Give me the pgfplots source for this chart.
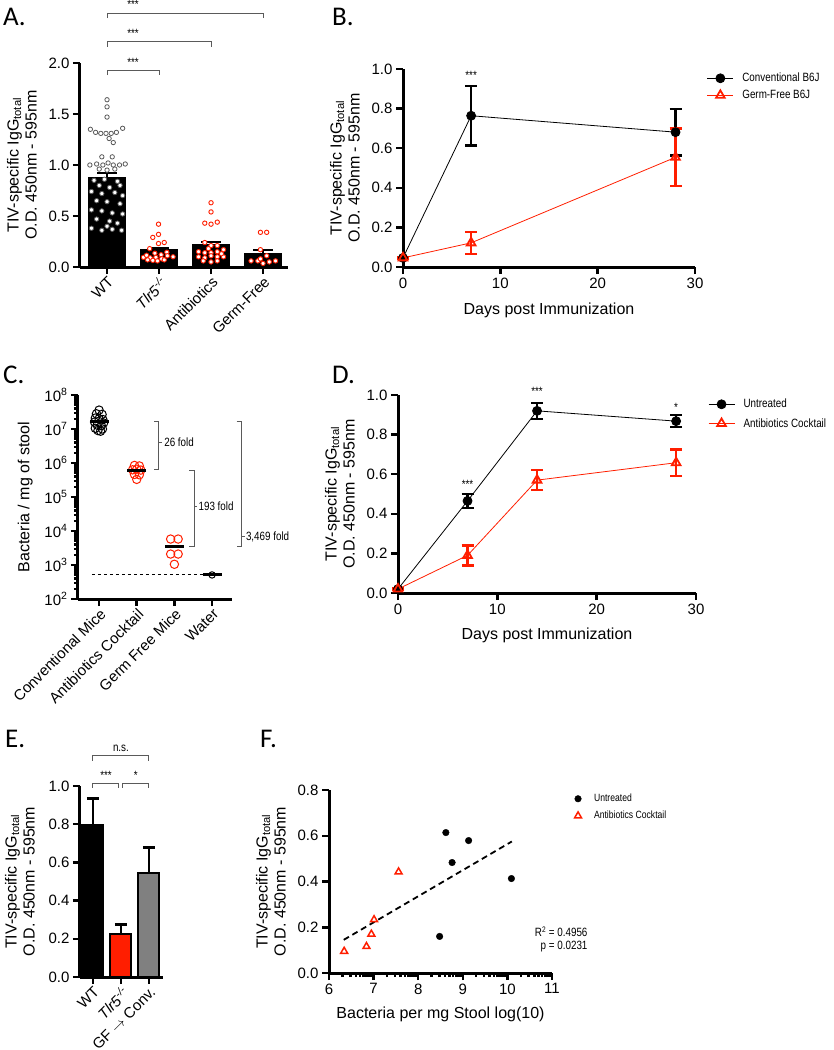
\documentclass[border=0pt]{standalone}
\usepackage{pgfplots}
\pgfplotsset{compat=1.18}
\usepackage{fontspec}
\setmainfont{Liberation Sans}
\newfontfamily\carlito{Carlito}
\newfontfamily\narrowfont[FakeStretch=0.82]{Liberation Sans}
\newcommand\tickfont{\fontsize{15}{17}\selectfont}
\newcommand\labfont{\fontsize{16}{18}\selectfont}
\newcommand\legfont{\narrowfont\fontsize{12}{14}\selectfont}
\newcommand\smallleg{\narrowfont\fontsize{10.5}{12}\selectfont}
\newcommand\panfont{\carlito\fontsize{27}{30}\selectfont}
\newcommand\annfont{\narrowfont\fontsize{12}{14}\selectfont}
\definecolor{gpred}{RGB}{255,30,0}
\definecolor{brk}{RGB}{90,90,90}
\definecolor{ptgray}{RGB}{90,90,90}
\pgfplotsset{
 gp/.style={scale only axis, clip=false,
  axis x line*=bottom, axis y line*=left,
  axis line style={line width=3pt,-},
  tick style={line width=2.5pt,black},
  major tick length=7pt, minor tick length=4pt,
  tick align=outside,
  tick label style={font=\tickfont},
  label style={font=\labfont},
  ylabel style={align=center},
  ylabel shift=5pt,
  /pgf/number format/assume math mode=true,
  yticklabel style={/pgf/number format/.cd,fixed,fixed zerofill,precision=1},
  legend cell align=left,
  legend image code/.code={\draw[mark repeat=2,mark phase=2,##1] plot coordinates {(0pt,0pt) (13pt,0pt) (26pt,0pt)}; \path[draw=none,fill=none] (0pt,0pt) -- (33pt,0pt);},
 },
}
\begin{document}
\begin{tikzpicture}

% ---------------- Panel A ----------------
\begin{scope}[shift={(80pt,-267pt)}]
\begin{axis}[gp, at={(0pt,0pt)}, anchor=south west, width=208pt, height=204pt,
  xmin=-0.52, xmax=3.48, ymin=0, ymax=2,
  ytick={0,0.5,1,1.5,2},
  xtick={0,1,2,3},
  xticklabels={WT,\textit{Tlr5}\textsuperscript{\textit{-/-}},Antibiotics,Germ-Free},
  xticklabel style={rotate=45,anchor=north east,inner sep=1pt},
  ylabel={TIV-specific IgG\textsubscript{total}\\O.D. 450nm - 595nm},
]
\addplot[ybar, bar shift=0pt, bar width=37pt, fill=black, draw=black,
  error bars/.cd, y dir=plus, y explicit,
  error bar style={line width=2pt,black},
  error mark options={rotate=90,mark size=10pt,line width=2pt,black}]
  coordinates {(0,0.88) +- (0,0.04) (1,0.173) +- (0,0.015) (2,0.22) +- (0,0.03) (3,0.134) +- (0,0.033)};
\addplot[only marks, mark=*, mark size=2.2pt, mark options={fill=white, draw=ptgray, line width=0.8pt}]
  coordinates {
  (0.00,1.64) (0.00,1.57) (0.00,1.47)
  (-0.32,1.35) (-0.22,1.32) (-0.12,1.31) (-0.02,1.31) (0.08,1.31) (0.18,1.32) (0.30,1.36)
  (0.04,1.26) (0.12,1.22) (-0.10,1.08) (0.10,1.08)
  (-0.33,1.00) (-0.20,1.01) (-0.08,1.00) (0.02,1.02) (0.12,1.00) (0.24,1.00) (0.35,1.01)
  (-0.15,0.96) (0.00,0.95) (0.15,0.96)
  (-0.25,0.85) (-0.05,0.86) (0.20,0.84) (-0.15,0.80) (0.05,0.78) (0.25,0.80)
  (-0.30,0.74) (-0.10,0.72) (0.15,0.73) (0.30,0.70) (-0.20,0.65) (0.00,0.64)
  (0.25,0.62) (-0.30,0.56) (-0.10,0.55) (0.10,0.53) (0.30,0.52) (-0.20,0.47)
  (0.05,0.45) (0.20,0.43) (-0.30,0.38) (-0.10,0.36) (0.10,0.37) (0.28,0.36) (0.00,0.40)
  };
\addplot[only marks, mark=*, mark size=2.2pt, mark options={fill=white, draw=gpred, line width=0.9pt}]
  coordinates {
  (0.99,0.42) (0.88,0.29) (0.99,0.32) (0.99,0.23) (1.10,0.24) (0.82,0.18)
  (0.70,0.095) (0.76,0.115) (0.83,0.09) (0.92,0.135) (0.94,0.095) (1.04,0.12)
  (1.05,0.08) (1.15,0.145) (1.16,0.11) (1.27,0.10) (0.88,0.065) (0.97,0.06)
  (1.10,0.07) (0.78,0.07)
  (2.00,0.63) (2.00,0.54) (1.88,0.43) (2.00,0.42) (2.12,0.44) (1.88,0.24)
  (2.00,0.21) (2.12,0.21) (2.24,0.17) (1.76,0.15) (1.88,0.14) (2.00,0.14)
  (2.12,0.15) (1.76,0.10) (1.88,0.09) (2.00,0.11) (2.12,0.10) (2.24,0.10)
  (1.85,0.06) (2.00,0.05) (2.12,0.06) (1.95,0.18) (2.20,0.13)
  (2.95,0.34) (3.07,0.34) (2.95,0.17) (3.07,0.11) (2.77,0.06) (2.90,0.06)
  (3.00,0.035) (3.12,0.05) (3.24,0.06) (2.95,0.08)
  };
\draw[brk, line width=1pt] (axis cs:0,1.88) -- (axis cs:0,1.93) -- (axis cs:1,1.93) -- (axis cs:1,1.88);
\node[font=\annfont] at (axis cs:0.5,2.01) {***};
\draw[brk, line width=1pt] (axis cs:0,2.16) -- (axis cs:0,2.21) -- (axis cs:2,2.21) -- (axis cs:2,2.16);
\node[font=\annfont] at (axis cs:0.5,2.29) {***};
\draw[brk, line width=1pt] (axis cs:0,2.44) -- (axis cs:0,2.49) -- (axis cs:3,2.49) -- (axis cs:3,2.44);
\node[font=\annfont] at (axis cs:0.5,2.57) {***};
\end{axis}
\end{scope}

% ---------------- Panel B ----------------
\begin{scope}[shift={(403pt,-267pt)}]
\begin{axis}[gp, at={(0pt,0pt)}, anchor=south west, width=292pt, height=198pt,
  xmin=0, xmax=30, ymin=0, ymax=1, xtick={0,10,20,30}, ytick={0,0.2,0.4,0.6,0.8,1.0},
  xlabel={Days post Immunization}, xlabel style={yshift=-8pt},
  ylabel={TIV-specific IgG\textsubscript{total}\\O.D. 450nm - 595nm},
  legend style={at={(1.03,1.0)}, anchor=north west, draw=none, fill=none, font=\legfont, row sep=3pt},
]
\addplot[black, line width=0.8pt, mark=*, mark size=4.5pt, mark options={solid,fill=black},
  error bars/.cd, y dir=both, y explicit,
  error bar style={line width=2.5pt,black},
  error mark options={rotate=90,mark size=6pt,line width=2.5pt,black}]
  coordinates {(0,0.046) +- (0,0.005) (7,0.764) +- (0,0.15) (28,0.681) +- (0,0.118)};
\addlegendentry{Conventional B6J}
\addplot[gpred, line width=0.8pt, mark=triangle, mark size=5pt, mark options={solid,fill=white,line width=1.8pt},
  error bars/.cd, y dir=both, y explicit,
  error bar style={line width=2.5pt,gpred},
  error mark options={rotate=90,mark size=6pt,line width=2.5pt,gpred}]
  coordinates {(0,0.046) +- (0,0.005) (7,0.122) +- (0,0.056) (28,0.554) +- (0,0.145)};
\addlegendentry{Germ-Free B6J}
\node[font=\annfont] at (axis cs:7,0.97) {***};
\end{axis}
\end{scope}

% ---------------- Panel C ----------------
\begin{scope}[shift={(78pt,-599pt)}]
\begin{axis}[gp, ymode=log, at={(0pt,0pt)}, anchor=south west, width=154pt, height=204pt,
  xmin=-0.56, xmax=3.53, ymin=1e2, ymax=1e8,
  ytick={1e2,1e3,1e4,1e5,1e6,1e7,1e8},
  yticklabels={10\textsuperscript{2},10\textsuperscript{3},10\textsuperscript{4},10\textsuperscript{5},10\textsuperscript{6},10\textsuperscript{7},10\textsuperscript{8}},
  minor ytick={2e2,3e2,4e2,5e2,6e2,7e2,8e2,9e2,2e3,3e3,4e3,5e3,6e3,7e3,8e3,9e3,2e4,3e4,4e4,5e4,6e4,7e4,8e4,9e4,2e5,3e5,4e5,5e5,6e5,7e5,8e5,9e5,2e6,3e6,4e6,5e6,6e6,7e6,8e6,9e6,2e7,3e7,4e7,5e7,6e7,7e7,8e7,9e7},
  xtick={0,1,2,3},
  xticklabels={Conventional Mice,Antibiotics Cocktail,Germ Free Mice,Water},
  xticklabel style={rotate=45,anchor=north east,inner sep=1pt},
  ylabel={Bacteria / mg of stool},
]
\addplot[only marks, mark=o, mark size=4.2pt, black, line width=1pt]
  coordinates {(0,3.6e7) (-0.07,2.8e7) (0.08,2.7e7) (-0.1,2.1e7) (0.0,2.0e7) (0.1,1.9e7)
  (-0.12,1.6e7) (0.12,1.5e7) (-0.05,1.3e7) (0.06,1.25e7) (-0.1,1.05e7) (0.09,1.0e7) (-0.03,9.0e6) (0.04,8.6e6)};
\addplot[only marks, mark=o, mark size=4.2pt, gpred, line width=1pt]
  coordinates {(0.94,8.5e5) (1.07,8.2e5) (0.89,6.3e5) (1.0,6.6e5) (1.11,6.2e5) (0.94,4.6e5) (1.07,4.5e5) (1.0,3.3e5)
  (1.9,5.8e3) (2.1,5.8e3) (1.9,2.1e3) (2.1,2.1e3) (2.0,1.05e3)};
\addplot[only marks, mark=o, mark size=3.2pt, black, line width=1pt] coordinates {(3,510)};
\addplot[black, dashed, line width=1pt] coordinates {(-0.19,510) (3,510)};
\addplot[only marks, mark=-, mark size=9.5pt, black, mark options={line width=3pt}]
  coordinates {(0,1.64e7) (1,6.2e5) (2,3.4e3) (3,510)};
\draw[brk, line width=1pt] (axis cs:1.46,1.64e7) -- (axis cs:1.59,1.64e7) -- (axis cs:1.59,6.4e5) -- (axis cs:1.46,6.4e5);
\draw[brk, line width=1pt] (axis cs:1.59,4.1e6) -- ++(3pt,0pt);
\node[anchor=west, font=\annfont, inner sep=1pt] at (axis cs:1.70,4.1e6) {26 fold};
\draw[brk, line width=1pt] (axis cs:2.40,6.2e5) -- (axis cs:2.53,6.2e5) -- (axis cs:2.53,3.4e3) -- (axis cs:2.40,3.4e3);
\draw[brk, line width=1pt] (axis cs:2.53,5.2e4) -- ++(3pt,0pt);
\node[anchor=west, font=\annfont, inner sep=1pt] at (axis cs:2.61,5.2e4) {193 fold};
\draw[brk, line width=1pt] (axis cs:3.65,1.7e7) -- (axis cs:3.785,1.7e7) -- (axis cs:3.785,3.4e3) -- (axis cs:3.65,3.4e3);
\draw[brk, line width=1pt] (axis cs:3.785,6.8e3) -- ++(3pt,0pt);
\node[anchor=west, font=\annfont, inner sep=1pt] at (axis cs:3.87,6.8e3) {3,469 fold};
\end{axis}
\end{scope}

% ---------------- Panel D ----------------
\begin{scope}[shift={(398pt,-593pt)}]
\begin{axis}[gp, at={(0pt,0pt)}, anchor=south west, width=298pt, height=198pt,
  xmin=0, xmax=30, ymin=0, ymax=1, xtick={0,10,20,30}, ytick={0,0.2,0.4,0.6,0.8,1.0},
  xlabel={Days post Immunization}, xlabel style={yshift=-7pt},
  ylabel={TIV-specific IgG\textsubscript{total}\\O.D. 450nm - 595nm},
  legend style={at={(1.03,1.0)}, anchor=north west, draw=none, fill=none, font=\legfont, row sep=5pt},
]
\addplot[black, line width=0.8pt, mark=*, mark size=4.5pt, mark options={solid,fill=black},
  error bars/.cd, y dir=both, y explicit,
  error bar style={line width=2.5pt,black},
  error mark options={rotate=90,mark size=6pt,line width=2.5pt,black}]
  coordinates {(0,0.02) +- (0,0.005) (7,0.465) +- (0,0.035) (14,0.92) +- (0,0.04) (28,0.868) +- (0,0.03)};
\addlegendentry{Untreated}
\addplot[gpred, line width=0.8pt, mark=triangle, mark size=5pt, mark options={solid,fill=white,line width=1.8pt},
  error bars/.cd, y dir=both, y explicit,
  error bar style={line width=2.5pt,gpred},
  error mark options={rotate=90,mark size=6pt,line width=2.5pt,gpred}]
  coordinates {(0,0.02) +- (0,0.005) (7,0.19) +- (0,0.05) (14,0.57) +- (0,0.05) (28,0.658) +- (0,0.068)};
\addlegendentry{Antibiotics Cocktail}
\node[font=\annfont] at (axis cs:7,0.55) {***};
\node[font=\annfont] at (axis cs:14,1.02) {***};
\node[font=\annfont] at (axis cs:28,0.94) {*};
\end{axis}
\end{scope}

% ---------------- Panel E ----------------
\begin{scope}[shift={(80pt,-977pt)}]
\begin{axis}[gp, at={(0pt,0pt)}, anchor=south west, width=83pt, height=191pt,
  xmin=-0.46, xmax=2.5, ymin=0, ymax=1, ytick={0,0.2,0.4,0.6,0.8,1.0},
  xtick={0,1,2},
  xticklabels={WT,\textit{Tlr5}\textsuperscript{\textit{-/-}},GF $\rightarrow$ Conv.},
  xticklabel style={rotate=45,anchor=north east,inner sep=1pt},
  ylabel={TIV-specific IgG\textsubscript{total}\\O.D. 450nm - 595nm},
  ylabel shift=7pt,
]
\addplot[ybar, bar shift=0pt, bar width=21pt, fill=black, draw=black, line width=2pt,
  error bars/.cd, y dir=plus, y explicit,
  error bar style={line width=2.5pt,black},
  error mark options={rotate=90,mark size=6pt,line width=2.5pt,black}]
  coordinates {(0,0.794) +- (0,0.14)};
\addplot[ybar, bar shift=0pt, bar width=21pt, fill=gpred, draw=black, line width=2pt,
  error bars/.cd, y dir=plus, y explicit,
  error bar style={line width=2.5pt,black},
  error mark options={rotate=90,mark size=6pt,line width=2.5pt,black}]
  coordinates {(1,0.227) +- (0,0.047)};
\addplot[ybar, bar shift=0pt, bar width=21pt, fill={rgb,255:red,128;green,128;blue,128}, draw=black, line width=2pt,
  error bars/.cd, y dir=plus, y explicit,
  error bar style={line width=2.5pt,black},
  error mark options={rotate=90,mark size=6pt,line width=2.5pt,black}]
  coordinates {(2,0.545) +- (0,0.132)};
\draw[brk, line width=1pt] (axis cs:0,1.131) -- (axis cs:0,1.159) -- (axis cs:2,1.159) -- (axis cs:2,1.131);
\node[font=\annfont] at (axis cs:1,1.195) {n.s.};
\draw[brk, line width=1pt] (axis cs:0,0.99) -- (axis cs:0,1.014) -- (axis cs:0.93,1.014) -- (axis cs:0.93,0.99);
\node[font=\annfont] at (axis cs:0.47,1.055) {***};
\draw[brk, line width=1pt] (axis cs:1.07,0.99) -- (axis cs:1.07,1.014) -- (axis cs:2,1.014) -- (axis cs:2,0.99);
\node[font=\annfont] at (axis cs:1.53,1.055) {*};
\end{axis}
\end{scope}

% ---------------- Panel F ----------------
\begin{scope}[shift={(329pt,-973pt)}]
\begin{axis}[gp, at={(0pt,0pt)}, anchor=south west, width=223pt, height=183pt,
  xmin=6, xmax=11, ymin=0, ymax=0.8, xtick={6,7,8,9,10,11}, ytick={0,0.2,0.4,0.6,0.8},
  minor xtick={6.301,6.477,6.602,6.699,6.778,6.845,6.903,6.954,
    7.301,7.477,7.602,7.699,7.778,7.845,7.903,7.954,
    8.301,8.477,8.602,8.699,8.778,8.845,8.903,8.954,
    9.301,9.477,9.602,9.699,9.778,9.845,9.903,9.954,
    10.301,10.477,10.602,10.699,10.778,10.845,10.903,10.954},
  xlabel={Bacteria per mg Stool log(10)}, xlabel style={yshift=-6pt},
  ylabel={TIV-specific IgG\textsubscript{total}\\O.D. 450nm - 595nm},
  legend style={at={(1.08,1.0)}, anchor=north west, draw=none, fill=none, font=\smallleg, row sep=4pt},
  legend image code/.code={\draw[#1] plot coordinates {(5pt,0pt)}; \path[draw=none,fill=none] (0pt,0pt) -- (19pt,0pt);},
]
\addplot[only marks, mark=*, mark size=3.3pt, black]
  coordinates {(8.62,0.614) (9.13,0.579) (8.76,0.483) (10.09,0.413) (8.48,0.16)};
\addlegendentry{Untreated}
\addplot[only marks, mark=triangle, mark size=4pt, gpred, mark options={fill=white, line width=1.5pt}]
  coordinates {(6.34,0.095) (6.84,0.116) (6.95,0.17) (7.01,0.233) (7.56,0.442)};
\addlegendentry{Antibiotics Cocktail}
\addplot[black, line width=1.8pt, dash pattern=on 6pt off 4pt, forget plot]
  coordinates {(6.33,0.145) (10.1,0.575)};
\end{axis}
\end{scope}
\node[anchor=east, font=\annfont] at (591pt,-932pt) {R\textsuperscript{2} = 0.4956};
\node[anchor=east, font=\annfont] at (591pt,-947pt) {p = 0.0231};

% panel letters
\node[anchor=base west, font=\panfont, inner sep=0pt] at (3pt,-25pt) {A.};
\node[anchor=base west, font=\panfont, inner sep=0pt] at (332pt,-25pt) {B.};
\node[anchor=base west, font=\panfont, inner sep=0pt] at (3pt,-383pt) {C.};
\node[anchor=base west, font=\panfont, inner sep=0pt] at (332pt,-383pt) {D.};
\node[anchor=base west, font=\panfont, inner sep=0pt] at (5pt,-747pt) {E.};
\node[anchor=base west, font=\panfont, inner sep=0pt] at (260pt,-747pt) {F.};

\pgfresetboundingbox
\path[use as bounding box] (0pt,0pt) rectangle (834pt,-1050pt);
\end{tikzpicture}
\end{document}
